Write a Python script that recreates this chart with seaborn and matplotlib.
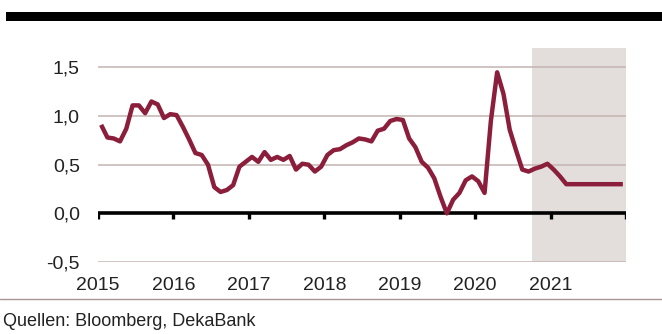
import numpy as np
import pandas as pd
import matplotlib
matplotlib.use("Agg")
import matplotlib.pyplot as plt
import seaborn as sns
from matplotlib.patches import Rectangle
from matplotlib.lines import Line2D

# ---- data (monthly, Jan 2015 - Dec 2021) ----
v2015 = [0.91, 0.78, 0.77, 0.74, 0.87, 1.11, 1.11, 1.03, 1.15, 1.12, 0.98, 1.02]
v2016 = [1.01, 0.89, 0.76, 0.62, 0.60, 0.50, 0.27, 0.22, 0.24, 0.29, 0.48, 0.53]
v2017 = [0.58, 0.53, 0.63, 0.55, 0.58, 0.55, 0.59, 0.45, 0.51, 0.50, 0.43, 0.48]
v2018 = [0.60, 0.65, 0.66, 0.70, 0.73, 0.77, 0.76, 0.74, 0.85, 0.87, 0.95, 0.97]
v2019 = [0.96, 0.77, 0.68, 0.53, 0.47, 0.36, 0.17, 0.00, 0.14, 0.21, 0.34, 0.38]
v2020 = [0.33, 0.21, 0.95, 1.45, 1.23, 0.86, 0.65, 0.45, 0.43, 0.46, 0.48, 0.51]
v2021 = [0.45, 0.38, 0.30, 0.30, 0.30, 0.30, 0.30, 0.30, 0.30, 0.30, 0.30, 0.30]
years = [2015, 2016, 2017, 2018, 2019, 2020, 2021]
forecast_start = 2020.75
forecast_end = 2022.0
y_ticks = [-0.5, 0.0, 0.5, 1.0, 1.5]
y_labels = ["-0,5", "0,0", "0,5", "1,0", "1,5"]
source = "Quellen: Bloomberg, DekaBank"

values = v2015 + v2016 + v2017 + v2018 + v2019 + v2020 + v2021
t = [y + (m + 0.5) / 12 for y in years for m in range(12)]
df = pd.DataFrame({"t": t, "v": values})

sns.set_theme(style="white")
FONT = ["Liberation Sans", "DejaVu Sans"]
plt.rcParams["font.family"] = FONT

RED = "#8b1f3b"
GRID = "#c4b4b1"
SHADE = "#e3dedb"

fig = plt.figure(figsize=(6.62, 3.34), dpi=100)
ax = fig.add_axes([98 / 662, 1 - 262 / 334, (626 - 98) / 662, (262 - 48) / 334])

ax.set_xlim(2015, 2022)
ax.set_ylim(-0.5, 1.7)
ax.axvspan(forecast_start, forecast_end, color=SHADE, lw=0, zorder=0)
for yv in y_ticks:
    if yv != 0:
        ax.axhline(yv, color=GRID, lw=1.1, zorder=1)

sns.lineplot(data=df, x="t", y="v", ax=ax, color=RED, lw=3.2, zorder=4,
             solid_joinstyle="round", solid_capstyle="butt")

ax.axhline(0, color="black", lw=2.6, zorder=3)
ticks_x = years + [forecast_end]
ax.vlines(ticks_x, -0.055, 0, color="black", lw=2.4, zorder=3)

for s in ax.spines.values():
    s.set_visible(False)
ax.set_xticks(years)
ax.set_xticklabels([str(y) for y in years])
ax.set_yticks(y_ticks)
ax.set_yticklabels(y_labels)
ax.tick_params(axis="both", length=0, labelsize=14, colors="#222222")
ax.tick_params(axis="x", pad=11)
ax.tick_params(axis="y", pad=13)
for lab in ax.get_xticklabels() + ax.get_yticklabels():
    lab.set_family(FONT)
ax.set_xlabel("")
ax.set_ylabel("")
ax.grid(False)

# top black bar
fig.add_artist(Rectangle((6 / 662, 1 - 21 / 334), 1 - 6 / 662, 9 / 334,
                         transform=fig.transFigure, color="black", lw=0))
# bottom rule
fig.add_artist(Line2D([0, 1], [1 - 299 / 334, 1 - 299 / 334],
                      transform=fig.transFigure, color="#a89594", lw=1.0))
fig.text(3 / 662, 1 - 322 / 334, source, fontsize=13, color="#222222",
         va="center", ha="left", family=FONT)

fig.savefig("out.png", dpi=100)
